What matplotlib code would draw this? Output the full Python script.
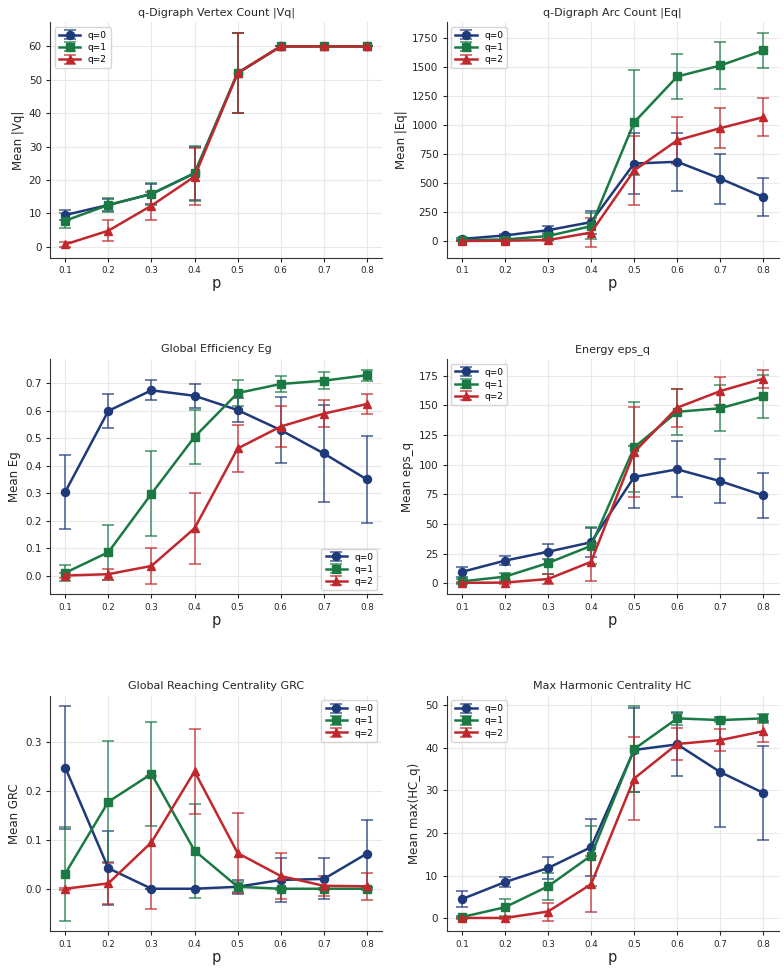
import numpy as np
import matplotlib
matplotlib.use('Agg')
import matplotlib.pyplot as plt
from matplotlib.ticker import MultipleLocator

p = [0.1, 0.2, 0.3, 0.4, 0.5, 0.6, 0.7, 0.8]
q_labels = ['q=0', 'q=1', 'q=2']
colors = ['#1f3a7a', '#1b7a43', '#c0282d']
markers = ['o', 's', '^']

# |Vq|
vq_mean = [[9.5, 12.5, 15.8, 22, 52, 60, 60, 60],
           [7.8, 12.5, 15.8, 22, 52, 60, 60, 60],
           [0.7, 4.8, 12.3, 21, 52, 60, 60, 60]]
vq_err = [[1.5, 1.8, 3.0, 8.0, 12, 0, 0, 0],
          [2.2, 2.0, 3.3, 8.2, 12, 0, 0, 0],
          [0.8, 3.2, 4.2, 8.5, 12, 0, 0, 0]]

# |Eq|
eq_mean = [[20, 50, 95, 165, 670, 685, 540, 380],
           [10, 15, 45, 130, 1025, 1420, 1515, 1645],
           [2, 5, 10, 75, 610, 870, 975, 1070]]
eq_err = [[10, 15, 35, 100, 260, 250, 215, 165],
          [5, 10, 25, 110, 450, 195, 200, 150],
          [3, 5, 10, 125, 295, 205, 175, 165]]

# Eg
eg_mean = [[0.305, 0.600, 0.675, 0.655, 0.603, 0.530, 0.445, 0.350],
           [0.010, 0.085, 0.298, 0.505, 0.665, 0.698, 0.710, 0.730],
           [0.000, 0.005, 0.035, 0.172, 0.463, 0.543, 0.590, 0.625]]
eg_err = [[0.135, 0.063, 0.037, 0.043, 0.045, 0.12, 0.178, 0.158],
          [0.03, 0.10, 0.155, 0.10, 0.047, 0.03, 0.03, 0.02],
          [0.01, 0.02, 0.065, 0.13, 0.087, 0.075, 0.048, 0.038]]

# eps_q
en_mean = [[9.5, 19, 26.5, 34.5, 89.5, 96, 86, 74],
           [1.5, 5.5, 17, 31.5, 114.5, 144.5, 147.5, 157.5],
           [0.3, 0.5, 3.5, 18, 110.5, 148, 162, 172.5]]
en_err = [[4.5, 4, 6.5, 12, 26, 23.5, 18.5, 19],
          [2, 3, 9, 15.5, 38, 19.5, 19.5, 18],
          [0.5, 0.8, 4, 16, 38, 16, 12, 7.5]]

# GRC
grc_mean = [[0.248, 0.042, 0.0, 0.0, 0.004, 0.018, 0.020, 0.072],
            [0.031, 0.178, 0.235, 0.078, 0.004, 0.0, 0.0, 0.0],
            [0.0, 0.011, 0.095, 0.240, 0.073, 0.026, 0.006, 0.005]]
grc_err = [[0.125, 0.076, 0.0, 0.0, 0.014, 0.045, 0.042, 0.068],
           [0.096, 0.124, 0.107, 0.096, 0.010, 0.002, 0.002, 0.002],
           [0.002, 0.042, 0.136, 0.087, 0.082, 0.047, 0.021, 0.028]]

# max HC
hc_mean = [[4.5, 8.5, 11.8, 16.7, 39.5, 40.8, 34.3, 29.4],
           [0.3, 2.6, 7.5, 14.7, 39.7, 46.9, 46.5, 46.9],
           [0.1, 0.1, 1.6, 8.0, 32.8, 40.9, 41.8, 43.9]]
hc_err = [[1.9, 1.2, 2.5, 6.7, 9.8, 7.3, 12.9, 11],
          [0.3, 2.0, 3.2, 7.0, 10.0, 1.5, 0.5, 1.0],
          [0.2, 0.2, 2.1, 6.6, 9.8, 3.7, 2.5, 2.5]]

panels = [
    ('q-Digraph Vertex Count |Vq|', 'Mean |Vq|', vq_mean, vq_err, 'upper left', 10),
    ('q-Digraph Arc Count |Eq|', 'Mean |Eq|', eq_mean, eq_err, 'upper left', 250),
    ('Global Efficiency Eg', 'Mean Eg', eg_mean, eg_err, 'lower right', 0.1),
    ('Energy eps_q', 'Mean eps_q', en_mean, en_err, 'upper left', 25),
    ('Global Reaching Centrality GRC', 'Mean GRC', grc_mean, grc_err, 'upper right', 0.1),
    ('Max Harmonic Centrality HC', 'Mean max(HC_q)', hc_mean, hc_err, 'upper left', 10),
]

fig, axes = plt.subplots(3, 2, figsize=(7.84, 9.69), dpi=100)
plt.subplots_adjust(left=0.064, right=0.993, top=0.977, bottom=0.039,
                    wspace=0.195, hspace=0.43)

for ax, (title, ylabel, means, errs, loc, step) in zip(axes.flat, panels):
    for i in range(3):
        eb = ax.errorbar(p, means[i], yerr=errs[i], color=colors[i],
                         marker=markers[i], markersize=5.8, linewidth=1.8,
                         elinewidth=1.2, capsize=4, capthick=1.2,
                         label=q_labels[i])
        for bar in eb[2]:
            bar.set_alpha(0.75)
        for cap in eb[1]:
            cap.set_alpha(0.75)
    ax.set_title(title, fontsize=8, color='#262626', pad=5)
    ax.set_ylabel(ylabel, fontsize=8.5, color='#262626', labelpad=3)
    ax.set_xlabel('p', fontsize=10.5, color='#262626', labelpad=1)
    ax.set_xticks(p)
    ax.yaxis.set_major_locator(MultipleLocator(step))
    ax.tick_params(axis='x', labelsize=6.3, colors='#262626', length=3, pad=3)
    ax.tick_params(axis='y', labelsize=7.5, colors='#262626', length=3, pad=3)
    ax.grid(True, color='#e8e8e8', linewidth=0.8)
    ax.set_axisbelow(True)
    for s in ['top', 'right']:
        ax.spines[s].set_visible(False)
    for s in ['left', 'bottom']:
        ax.spines[s].set_color('#333333')
    ax.legend(loc=loc, fontsize=6.5, handlelength=2.4, borderpad=0.45,
              labelspacing=0.35)

fig.savefig('out.png', dpi=100)
